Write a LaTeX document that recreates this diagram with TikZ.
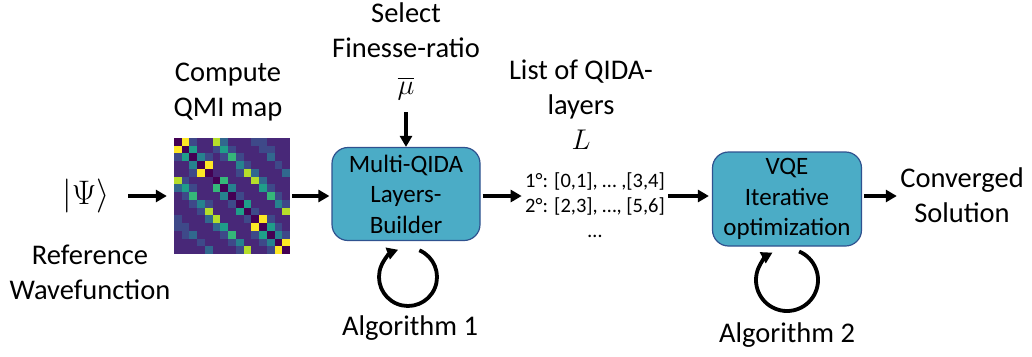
\RequirePackage{fix-cm}
\documentclass[tikz,border=0pt]{standalone}
\usepackage{amsmath}
\usepackage{fontspec}
\setmainfont{Carlito}
\usetikzlibrary{arrows.meta, positioning, calc}

% viridis steps for the QMI map
\definecolor{vir0}{RGB}{68,1,84}
\definecolor{vir1}{RGB}{72,40,120}
\definecolor{vir2}{RGB}{62,73,137}
\definecolor{vir3}{RGB}{49,104,142}
\definecolor{vir4}{RGB}{38,130,142}
\definecolor{vir5}{RGB}{31,158,137}
\definecolor{vir6}{RGB}{53,183,121}
\definecolor{vir7}{RGB}{110,206,88}
\definecolor{vir8}{RGB}{181,222,43}
\definecolor{vir9}{RGB}{253,231,37}
\definecolor{boxfill}{RGB}{75,172,198}
\definecolor{boxline}{RGB}{47,82,143}

\tikzset{
  caption/.style={align=center, font=\fontsize{28.5}{35}\selectfont},
  stage/.style={draw=boxline, line width=1.2pt, fill=boxfill, rounded corners=16pt,
    align=center, inner sep=0pt, font=\fontsize{25}{30.5}\selectfont},
  flow/.style={line width=3.8pt, -{Triangle[length=11pt,width=12pt]}},
  loopback/.style={line width=3.8pt, -{Triangle[length=11pt,width=12pt]}}
}

\begin{document}
\begin{tikzpicture}[x=1pt, y=-1pt]
    \useasboundingbox (0,0) rectangle (1032,356);

    % Input state
    \node[caption] (psi) at (86,196) {\fontsize{34}{40}\selectfont$|\Psi\rangle$};
    \node[caption] (wavefn) at (90,272) {Reference\\Wavefunction};

    % QMI map
    \foreach \row [count=\r from 0] in {
        {0,9,2,1,1,8,3,1,1,1,2,2,1,1,1},
        {9,0,5,1,1,2,5,2,1,1,1,2,2,1,1},
        {2,5,0,4,2,1,2,6,2,1,1,1,3,1,1},
        {1,1,4,0,9,1,1,1,4,2,1,1,1,2,1},
        {1,1,2,9,0,1,1,1,2,8,3,1,1,1,3},
        {8,2,1,1,1,0,6,1,1,1,8,3,1,1,1},
        {3,5,2,1,1,6,0,4,1,1,1,5,2,1,1},
        {1,2,6,1,1,1,4,0,2,1,1,1,6,2,1},
        {1,1,2,4,2,1,1,2,0,5,1,1,1,4,2},
        {1,1,1,2,8,1,1,1,5,0,2,1,1,1,8},
        {2,1,1,1,3,8,1,1,1,2,0,9,2,1,1},
        {2,2,1,1,1,3,5,1,1,1,9,0,5,2,1},
        {1,2,3,1,1,1,2,6,1,1,2,5,0,4,2},
        {1,1,1,2,1,1,1,2,4,1,1,2,4,0,9},
        {1,1,1,1,3,1,1,1,2,8,1,1,2,9,0}} {
      \foreach \v [count=\c from 0] in \row {
        \fill[vir\v] (174+\c*7.733, 138+\r*7.733) rectangle ++(8.0, 8.0);
      }
    }
    \node[inner sep=0pt, minimum width=116pt, minimum height=116pt] (qmi) at (232,196) {};
    \node[caption] (qmitext) at (228,92) {Compute\\QMI map};

    % Layers builder
    \node[stage, minimum width=148pt, minimum height=93pt] (builder) at (406,194) {Multi-QIDA\\Layers-\\Builder};
    \node[caption] (ratio) at (406,51) {Select\\Finesse-ratio\\[2pt]$\overline{\mu}$};

    % Layer list
    \node[caption] (layers) at (581,105) {List of QIDA-\\layers\\$L$};
    \node[align=center, font=\fontsize{20.5}{25}\selectfont] (list) at (595,205)
        {1°: [0,1], … ,[3,4]\\2°: [2,3], …, [5,6]\\…};

    % VQE
    \node[stage, minimum width=149pt, minimum height=94pt] (vqe) at (787,199) {VQE\\Iterative\\optimization};
    \node[caption] (solution) at (962,195) {Converged\\Solution};

    % Algorithm loops
    \coordinate (loop1) at (408,277);
    \coordinate (loop2) at (787,280);
    \node[caption] (alg1) at (410,328) {Algorithm 1};
    \node[caption] (alg2) at (787,335) {Algorithm 2};

    % Arrows
    \draw[flow, shorten <=15pt, shorten >=7pt] (psi.east |- qmi) -- (qmi.west);
    \draw[flow, shorten <=2pt, shorten >=2pt] (qmi.east) -- (builder.west |- qmi);
    \draw[flow, shorten <=2pt] (builder.east |- qmi) -- (list.west |- qmi);
    \draw[flow, shorten >=3pt] (list.east |- qmi) -- (vqe.west |- qmi);
    \draw[flow, shorten <=2pt] (vqe.east |- qmi) -- (solution.west |- qmi);
    \draw[flow, shorten <=9pt] (ratio.south) -- (builder.north);
    \draw[loopback] ([shift={(-67:29)}]loop1) arc[start angle=-67, end angle=250, radius=29];
    \draw[loopback] ([shift={(-67:31)}]loop2) arc[start angle=-67, end angle=242, radius=31];
\end{tikzpicture}
\end{document}
